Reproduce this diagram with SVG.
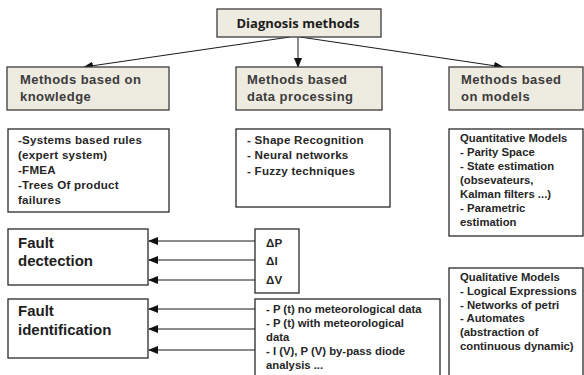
<svg xmlns="http://www.w3.org/2000/svg" width="584" height="375" viewBox="0 0 584 375">
<style>
.hb{fill:#eeebe1;stroke:#3c3c3c;stroke-width:1.3}
.bx{fill:#ffffff;stroke:#2a2a2a;stroke-width:1.3}
.t{font-family:"Liberation Sans",Arial,sans-serif;font-weight:bold;fill:#333333}
.h{font-size:13px;letter-spacing:0.45px;fill:#3b3b3b}
.s{font-size:11.6px;letter-spacing:0.25px;fill:#262626}
.q{font-size:11.3px;fill:#262626}
.f{font-size:15px;fill:#1e1e1e}
.c{stroke:#1a1a1a;stroke-width:1;fill:none;marker-end:url(#ah)}
</style>
<defs>
<marker id="ah" markerWidth="10" markerHeight="8" refX="9" refY="4" orient="auto" markerUnits="userSpaceOnUse">
<path d="M0,0 L10,4 L0,8 z" fill="#111"/>
</marker>
</defs>
<rect width="584" height="375" fill="#ffffff"/>
<g id="connectors">
<line class="c" x1="290" y1="37" x2="84" y2="67"/>
<line class="c" x1="298" y1="37" x2="298" y2="67"/>
<line class="c" x1="300" y1="37" x2="503" y2="67"/>
<line class="c" x1="255" y1="241" x2="149" y2="241"/>
<line class="c" x1="255" y1="260" x2="149" y2="260"/>
<line class="c" x1="255" y1="280" x2="149" y2="280"/>
<line class="c" x1="255" y1="309" x2="149" y2="309"/>
<line class="c" x1="255" y1="329" x2="149" y2="329"/>
<line class="c" x1="255" y1="350" x2="149" y2="350"/>
</g>
<g id="diagnosis">
<rect class="hb" x="217" y="9" width="164" height="28"/>
<text class="t" x="298" y="28" text-anchor="middle" style="font-family:'Open Sans','Liberation Sans',sans-serif;font-size:13px;fill:#1c1c1c">Diagnosis methods</text>
</g>
<g id="knowledge">
<rect class="hb" x="7" y="67" width="162" height="43"/>
<text class="t h" x="20" y="84">Methods based on</text>
<text class="t h" x="20" y="101">knowledge</text>
</g>
<g id="data">
<rect class="hb" x="236" y="67" width="146" height="43"/>
<text class="t h" x="247" y="84">Methods based</text>
<text class="t h" x="247" y="101">data processing</text>
</g>
<g id="models">
<rect class="hb" x="449" y="67" width="134" height="43"/>
<text class="t h" x="461" y="84">Methods based</text>
<text class="t h" x="461" y="101">on models</text>
</g>
<g id="knowledge-list">
<rect class="bx" x="8" y="129" width="161" height="83"/>
<text class="t s" x="18" y="144">-Systems based rules</text>
<text class="t s" x="18" y="159">(expert system)</text>
<text class="t s" x="18" y="174">-FMEA</text>
<text class="t s" x="18" y="189">-Trees Of product</text>
<text class="t s" x="18" y="204">failures</text>
</g>
<g id="data-list">
<rect class="bx" x="236" y="129" width="154" height="78"/>
<text class="t s" x="247" y="144">- Shape Recognition</text>
<text class="t s" x="247" y="159">- Neural networks</text>
<text class="t s" x="247" y="175">- Fuzzy techniques</text>
</g>
<g id="quantitative">
<rect class="bx" x="449" y="129" width="134" height="107"/>
<text class="t q" x="460" y="142">Quantitative Models</text>
<text class="t q" x="460" y="156">- Parity Space</text>
<text class="t q" x="460" y="170">- State estimation</text>
<text class="t q" x="460" y="184">(obsevateurs,</text>
<text class="t q" x="460" y="198">Kalman filters ...)</text>
<text class="t q" x="460" y="212">- Parametric</text>
<text class="t q" x="460" y="226">estimation</text>
</g>
<g id="fault-detection">
<rect class="bx" x="8" y="229" width="140" height="56"/>
<text class="t f" x="18" y="248">Fault</text>
<text class="t f" x="18" y="266">dectection</text>
</g>
<g id="deltas">
<rect class="bx" x="255" y="229" width="44" height="64"/>
<text class="t s" x="266" y="247">ΔP</text>
<text class="t s" x="266" y="265">ΔI</text>
<text class="t s" x="266" y="284">ΔV</text>
</g>
<g id="fault-identification">
<rect class="bx" x="8" y="299" width="140" height="59"/>
<text class="t f" x="18" y="316">Fault</text>
<text class="t f" x="18" y="335">identification</text>
</g>
<g id="identification-list">
<rect class="bx" x="255" y="299" width="185" height="90"/>
<text class="t q" x="266" y="313">- P (t) no meteorological data</text>
<text class="t q" x="266" y="327">- P (t) with meteorological</text>
<text class="t q" x="266" y="341">data</text>
<text class="t q" x="266" y="355">- I (V), P (V) by-pass diode</text>
<text class="t q" x="266" y="369">analysis ...</text>
</g>
<g id="qualitative">
<rect class="bx" x="449" y="268" width="134" height="120"/>
<text class="t q" x="460" y="281">Qualitative Models</text>
<text class="t q" x="460" y="295">- Logical Expressions</text>
<text class="t q" x="460" y="309">- Networks of petri</text>
<text class="t q" x="460" y="322">- Automates</text>
<text class="t q" x="460" y="336">(abstraction of</text>
<text class="t q" x="460" y="350">continuous dynamic)</text>
</g>
</svg>
